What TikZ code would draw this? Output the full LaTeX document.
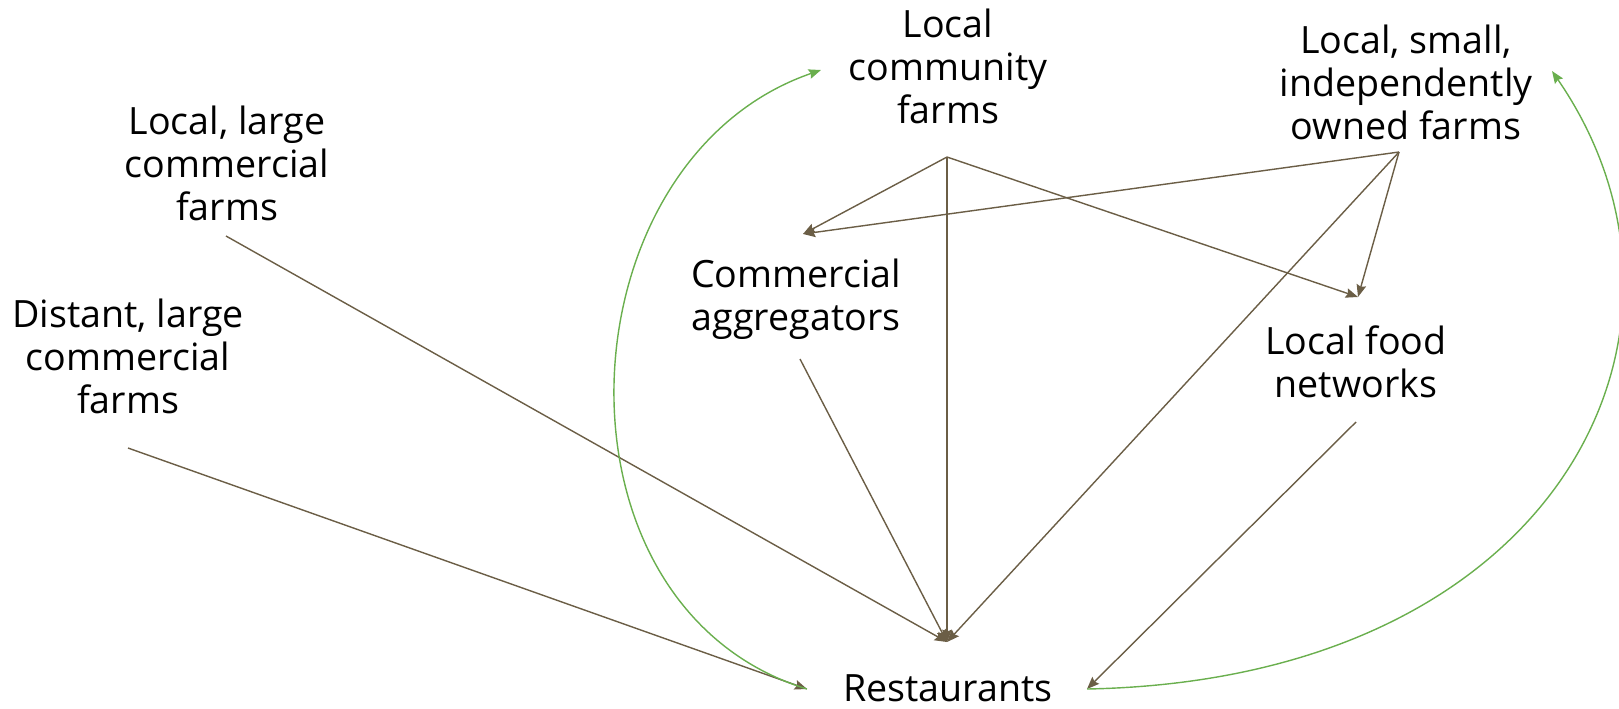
\documentclass[tikz,border=0pt]{standalone}
\usepackage{fontspec}
\setmainfont{Open Sans}
\usetikzlibrary{arrows.meta}
\definecolor{linkbrown}{HTML}{6B5E46}
\definecolor{loopgreen}{HTML}{6AAF4E}

\begin{document}
\begin{tikzpicture}[x=0.02cm, y=-0.02cm]
\tikzset{
    place/.style= {align=center, text=black, font=\fontsize{21.4}{24.5}\selectfont},
    flow/.style= {draw=linkbrown, line width=0.8pt, -{Stealth[length=7pt, width=5.5pt, inset=1pt]}},
    loop/.style= {draw=loopgreen, line width=0.8pt, -{Stealth[length=7pt, width=5.5pt, inset=1pt]}},
}
\useasboundingbox (0,0) rectangle (1619,708);

\node[place] (lcf) at (948,66) {Local\\community\\farms};
\node[place] (lsio) at (1406,82) {Local, small,\\independently\\owned farms};
\node[place] (llc) at (227,163) {Local, large\\commercial\\farms};
\node[place] (dlc) at (128,356) {Distant, large\\commercial\\farms};
\node[place] (ca) at (796,299) {Commercial\\aggregators};
\node[place] (lfn) at (1356,362) {Local food\\networks};
\node[place] (rest) at (948,688) {Restaurants};

% hub points of the connectors
\coordinate (lcf-out) at (947,157);
\coordinate (lsio-out) at (1399,152);
\coordinate (llc-out) at (226,236);
\coordinate (dlc-out) at (128,448);
\coordinate (ca-in) at (803,234);
\coordinate (ca-out) at (800,359);
\coordinate (lfn-in) at (1358,297);
\coordinate (lfn-out) at (1356,422);
\coordinate (rest-in) at (947,642);
\coordinate (rest-l) at (807,689);
\coordinate (rest-r) at (1087,689);
\coordinate (lcf-back) at (821,70);
\coordinate (lsio-back) at (1552,71);

\draw
(lcf-out) edge[flow] (ca-in)
(lcf-out) edge[flow] (lfn-in)
(lcf-out) edge[flow] (rest-in)
(lsio-out) edge[flow] (ca-in)
(lsio-out) edge[flow] (lfn-in)
(lsio-out) edge[flow] (rest-in)
(llc-out) edge[flow] (rest-in)
(ca-out) edge[flow] (rest-in)
(dlc-out) edge[flow] (rest-l)
(lfn-out) edge[flow] (rest-r);

\draw[loop] (rest-l) .. controls (538,606) and (560,160) .. (lcf-back);
\draw[loop] (rest-r) .. controls (1560,680) and (1730,330) .. (lsio-back);
\end{tikzpicture}
\end{document}
